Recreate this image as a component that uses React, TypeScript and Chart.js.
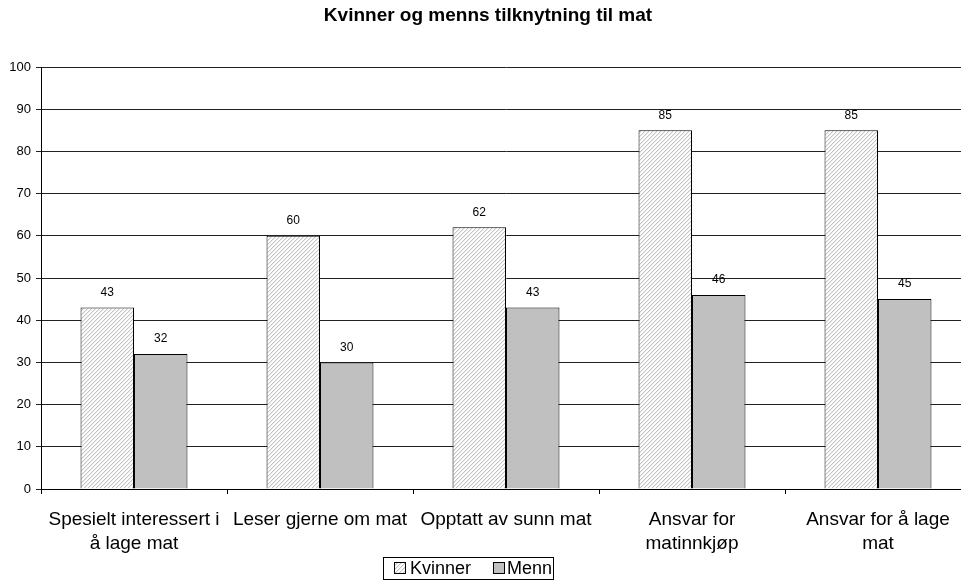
import React, { useEffect, useRef } from "react";
import { Chart, registerables } from "chart.js";

Chart.register(...registerables);

const title = "Kvinner og menns tilknytning til mat";
const categories: (string | string[])[] = [
  ["Spesielt interessert i", "å lage mat"],
  "Leser gjerne om mat",
  "Opptatt av sunn mat",
  ["Ansvar for", "matinnkjøp"],
  ["Ansvar for å lage", "mat"],
];
const seriesNames = ["Kvinner", "Menn"];
const kvinner = [43, 60, 62, 85, 85];
const menn = [32, 30, 43, 46, 45];
const yMin = 0;
const yMax = 100;
const yStep = 10;

const FONT = "'Liberation Sans', Arial, sans-serif";

function makeHatch(): CanvasPattern | string {
  const n = 4;
  const c = document.createElement("canvas");
  c.width = n;
  c.height = n;
  const g = c.getContext("2d");
  if (!g) return "#e6e6e6";
  const img = g.createImageData(n, n);
  for (let y = 0; y < n; y++) {
    for (let x = 0; x < n; x++) {
      const k = (x + y) % n;
      let v = 255;
      if (k === n - 1) v = 196;
      else if (k === 0) v = 234;
      const i = (y * n + x) * 4;
      img.data[i] = v;
      img.data[i + 1] = v;
      img.data[i + 2] = v;
      img.data[i + 3] = 255;
    }
  }
  g.putImageData(img, 0, 0);
  const p = g.createPattern(c, "repeat");
  return p || "#e6e6e6";
}

export default function App() {
  const ref = useRef<HTMLCanvasElement | null>(null);

  useEffect(() => {
    if (!ref.current) return;
    const hatch = makeHatch();
    const gray = "#c0c0c0";

    const decor = {
      id: "decor",
      afterDatasetsDraw(chart: any) {
        const ctx = chart.ctx;
        ctx.save();
        ctx.fillStyle = "#000";
        ctx.font = `12px ${FONT}`;
        ctx.textAlign = "center";
        ctx.textBaseline = "middle";
        chart.data.datasets.forEach((ds: any, i: number) => {
          const meta = chart.getDatasetMeta(i);
          meta.data.forEach((el: any, j: number) => {
            ctx.fillText(String(ds.data[j]), el.x, el.y - 15);
          });
        });
        ctx.restore();
      },
      afterDraw(chart: any) {
        const ctx = chart.ctx;
        ctx.save();
        ctx.fillStyle = "#000";
        ctx.font = `bold 19px ${FONT}`;
        ctx.textAlign = "center";
        ctx.textBaseline = "middle";
        ctx.fillText(title, 488, 16);
        ctx.strokeStyle = "#000";
        ctx.lineWidth = 1;
        ctx.strokeRect(383.5, 557.5, 170, 22);
        const fills = [hatch, gray];
        const boxX = [394, 493];
        const textX = [410, 507];
        ctx.font = `18px ${FONT}`;
        ctx.textAlign = "left";
        ctx.textBaseline = "middle";
        for (let i = 0; i < seriesNames.length; i++) {
          ctx.fillStyle = fills[i] as any;
          ctx.fillRect(boxX[i] + 0.5, 562.5, 11, 11);
          ctx.strokeRect(boxX[i] + 0.5, 562.5, 11, 11);
          ctx.fillStyle = "#000";
          ctx.fillText(seriesNames[i], textX[i], 569);
        }
        ctx.restore();
      },
    };

    const chart = new Chart(ref.current, {
      type: "bar",
      data: {
        labels: categories,
        datasets: [
          {
            label: seriesNames[0],
            data: kvinner,
            backgroundColor: hatch as any,
            borderColor: "#000",
            borderWidth: 1,
            categoryPercentage: 0.575,
            barPercentage: 1,
          },
          {
            label: seriesNames[1],
            data: menn,
            backgroundColor: gray,
            borderColor: "#000",
            borderWidth: 1,
            categoryPercentage: 0.575,
            barPercentage: 1,
          },
        ],
      },
      options: {
        responsive: false,
        animation: false,
        devicePixelRatio: 1,
        layout: { padding: { top: 67, left: 0, right: 0, bottom: 0 } },
        plugins: {
          legend: { display: false },
          title: { display: false },
          tooltip: { enabled: false },
        },
        scales: {
          x: {
            grid: {
              offset: true,
              drawOnChartArea: false,
              drawTicks: true,
              tickLength: 5,
              color: "#000",
            },
            border: { color: "#000", width: 1 },
            ticks: {
              color: "#000",
              font: { family: FONT, size: 19, lineHeight: 1.25 },
              padding: 14,
              maxRotation: 0,
              autoSkip: false,
            },
            afterFit: (s: any) => {
              s.height = 92;
            },
          },
          y: {
            min: yMin,
            max: yMax,
            grid: {
              color: "#222",
              tickLength: 5,
            },
            border: { color: "#000", width: 1 },
            ticks: {
              stepSize: yStep,
              color: "#000",
              font: { family: FONT, size: 13 },
              padding: 5,
            },
            afterFit: (s: any) => {
              s.width = 41;
            },
          },
        },
      },
      plugins: [decor],
    });
    return () => chart.destroy();
  }, []);

  return (
    <div
      style={{
        position: "fixed",
        left: 0,
        top: 0,
        width: 961,
        height: 581,
        overflow: "hidden",
        background: "#fff",
      }}
    >
      <canvas ref={ref} width={971} height={581} style={{ display: "block" }} />
    </div>
  );
}
